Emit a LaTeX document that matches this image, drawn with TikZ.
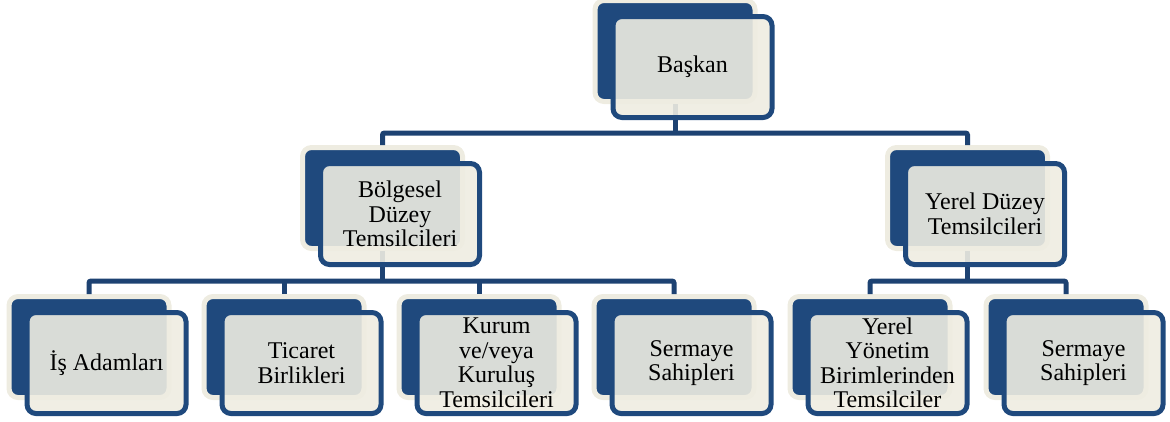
\documentclass[tikz,border=0pt]{standalone}
\usepackage{fontspec}
\setmainfont{Liberation Serif}
\definecolor{boxblue}{HTML}{1F497D}
\definecolor{linkblue}{HTML}{1D4272}
\definecolor{tanbg}{HTML}{EEECE1}
\begin{document}
\begin{tikzpicture}[x=1pt,y=-1pt,
  backbox/.style={rectangle, rounded corners=9pt, minimum width=160pt,
    minimum height=101pt, inner sep=0pt, fill=boxblue, draw=tanbg, line width=5pt},
  frontbox/.style={rectangle, rounded corners=9pt, minimum width=159pt,
    minimum height=101pt, inner sep=0pt, fill=tanbg, fill opacity=0.9,
    text opacity=1, draw=boxblue, line width=5pt, align=center,
    font=\fontsize{24}{24.5}\selectfont},
  link/.style={draw=linkblue, line width=5pt, rounded corners=2pt},
  front/.style={shift={(17.5,16)}}
]
\useasboundingbox (0,0) rectangle (1170,421);

% back plates
\node[backbox] (baskan)   at (675,51)    {};
\node[backbox] (bolgesel) at (382.5,198) {};
\node[backbox] (yerel)    at (967.5,198) {};
\node[backbox] (is)       at (89,347)    {};
\node[backbox] (ticaret)  at (284,347)   {};
\node[backbox] (kurum)    at (479,347)   {};
\node[backbox] (sermA)    at (674,347)   {};
\node[backbox] (yonetim)  at (870,347)   {};
\node[backbox] (sermB)    at (1066,347)  {};

% connectors
\coordinate (bar1) at (675,133);
\coordinate (bar2) at (382,281);
\coordinate (bar3) at (968,281);
\draw[link] (baskan.south) -- (bar1);
\draw[link] (bolgesel.north) |- (bar1) -| (yerel.north);
\draw[link] (bolgesel.south) -- (bolgesel.south |- bar2);
\draw[link] (is.north) |- (bar2) -| (sermA.north);
\draw[link] (ticaret.north) -- (ticaret.north |- bar2);
\draw[link] (kurum.north) -- (kurum.north |- bar2);
\draw[link] (yerel.south) -- (yerel.south |- bar3);
\draw[link] (yonetim.north) |- (bar3) -| (sermB.north);

% front cards with labels
\node[frontbox] (fbaskan)   at ([front]baskan.center)   {Başkan};
\node[frontbox] (fbolgesel) at ([front]bolgesel.center) {Bölgesel\\Düzey\\Temsilcileri};
\node[frontbox] (fyerel)    at ([front]yerel.center)    {Yerel Düzey\\Temsilcileri};
\node[frontbox] (fis)       at ([front]is.center)       {İş Adamları};
\node[frontbox] (fticaret)  at ([front]ticaret.center)  {Ticaret\\Birlikleri};
\node[frontbox] (fkurum)    at ([front]kurum.center)    {Kurum\\ve/veya\\Kuruluş\\Temsilcileri};
\node[frontbox] (fsermA)    at ([front]sermA.center)    {Sermaye\\Sahipleri};
\node[frontbox] (fyonetim)  at ([front]yonetim.center)  {Yerel\\Yönetim\\Birimlerinden\\Temsilciler};
\node[frontbox] (fsermB)    at ([front]sermB.center)    {Sermaye\\Sahipleri};
\end{tikzpicture}
\end{document}
